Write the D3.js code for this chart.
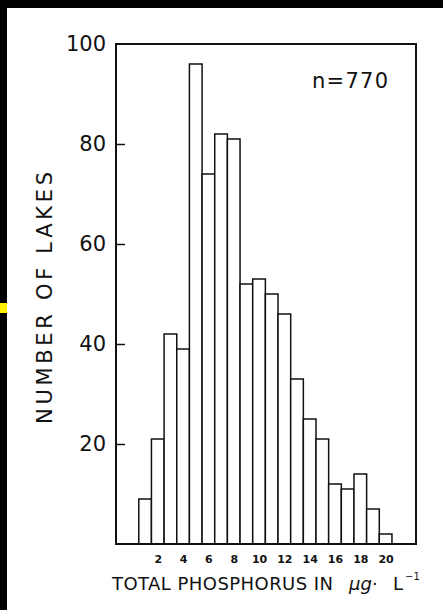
<!DOCTYPE html>
<html>
<head>
<meta charset="utf-8">
<script src="https://cdn.jsdelivr.net/npm/d3@7"></script>
<style>
  body { margin: 0; background: #fff; }
  svg { display: block; font-family: "DejaVu Sans", sans-serif; }
</style>
</head>
<body>
<div id="chart"></div>
<script>
// phosphorus classes (µg/L) and lake counts
const classes = [1, 2, 3, 4, 5, 6, 7, 8, 9, 10, 11, 12, 13, 14, 15, 16, 17, 18, 19, 20];
const lakes = [9, 21, 42, 39, 96, 74, 82, 81, 52, 53, 50, 46, 33, 25, 21, 12, 11, 14, 7, 2];
const xTicks = [2, 4, 6, 8, 10, 12, 14, 16, 18, 20];
const yTicks = [20, 40, 60, 80, 100];

const width = 443, height = 610;
const plotL = 116, plotR = 416, plotT = 44, plotB = 544;

const svg = d3.select("#chart")
    .append("svg")
    .attr("width", width)
    .attr("height", height);

// scan border
svg.append("rect").attr("x", 0).attr("y", 0).attr("width", width).attr("height", 8).attr("fill", "#000");
svg.append("rect").attr("x", 0).attr("y", 0).attr("width", 7).attr("height", height).attr("fill", "#000");
svg.append("rect").attr("x", 0).attr("y", 303).attr("width", 7).attr("height", 10).attr("fill", "#ffee00");

const x = d3.scaleLinear().domain([-1.3, 22.4]).range([plotL, plotR]);
const y = d3.scaleLinear().domain([0, 100]).range([plotB, plotT]);

svg.selectAll("rect.bar")
    .data(classes)
    .enter().append("rect")
    .attr("class", "bar")
    .attr("x", d => x(d - 0.5))
    .attr("y", (d, i) => y(lakes[i]))
    .attr("width", d => x(d + 0.5) - x(d - 0.5))
    .attr("height", (d, i) => y(0) - y(lakes[i]))
    .attr("fill", "#fff")
    .attr("stroke", "#111")
    .attr("stroke-width", 1.5);

// frame
svg.append("rect")
    .attr("x", plotL).attr("y", plotT)
    .attr("width", plotR - plotL).attr("height", plotB - plotT)
    .attr("fill", "none")
    .attr("stroke", "#111")
    .attr("stroke-width", 2);

const yAxis = svg.append("g")
    .attr("transform", `translate(${plotL},0)`)
    .call(d3.axisLeft(y).tickValues(yTicks).tickSize(-9).tickPadding(10));
yAxis.select(".domain").remove();
yAxis.selectAll("line").attr("stroke", "#111").attr("stroke-width", 1.5);
yAxis.selectAll(".tick").filter(d => d === 100).select("line").remove();
yAxis.selectAll("text")
    .attr("font-family", "DejaVu Sans")
    .attr("font-size", 21)
    .attr("fill", "#111");

const xAxis = svg.append("g")
    .attr("transform", `translate(0,${plotB})`)
    .call(d3.axisBottom(x).tickValues(xTicks).tickSize(0).tickPadding(0));
xAxis.select(".domain").remove();
xAxis.selectAll("text")
    .attr("y", 19)
    .attr("dy", 0)
    .attr("font-family", "DejaVu Sans")
    .attr("font-weight", "bold")
    .attr("font-size", 11)
    .attr("fill", "#111");

svg.append("text")
    .attr("x", 312).attr("y", 87.5)
    .attr("font-size", 21)
    .attr("textLength", 76)
    .attr("lengthAdjust", "spacing")
    .attr("fill", "#111")
    .text("n=770");

svg.append("text")
    .attr("transform", "translate(52,298) rotate(-90)")
    .attr("text-anchor", "middle")
    .attr("font-size", 21)
    .attr("textLength", 252)
    .attr("lengthAdjust", "spacing")
    .attr("fill", "#111")
    .text("NUMBER OF LAKES");

// x axis title
svg.append("text")
    .attr("x", 112).attr("y", 590)
    .attr("font-size", 18)
    .attr("textLength", 221)
    .attr("lengthAdjust", "spacing")
    .attr("fill", "#111")
    .text("TOTAL PHOSPHORUS IN");
svg.append("text")
    .attr("x", 349).attr("y", 590)
    .attr("font-size", 18)
    .attr("font-style", "italic")
    .attr("fill", "#111")
    .text("μg");
svg.append("text")
    .attr("x", 372).attr("y", 590)
    .attr("font-size", 18)
    .attr("fill", "#111")
    .text("·");
svg.append("text")
    .attr("x", 393).attr("y", 590)
    .attr("font-size", 18)
    .attr("fill", "#111")
    .text("L");
svg.append("text")
    .attr("x", 405).attr("y", 580)
    .attr("font-size", 10)
    .attr("fill", "#111")
    .text("−1");
</script>
</body>
</html>
